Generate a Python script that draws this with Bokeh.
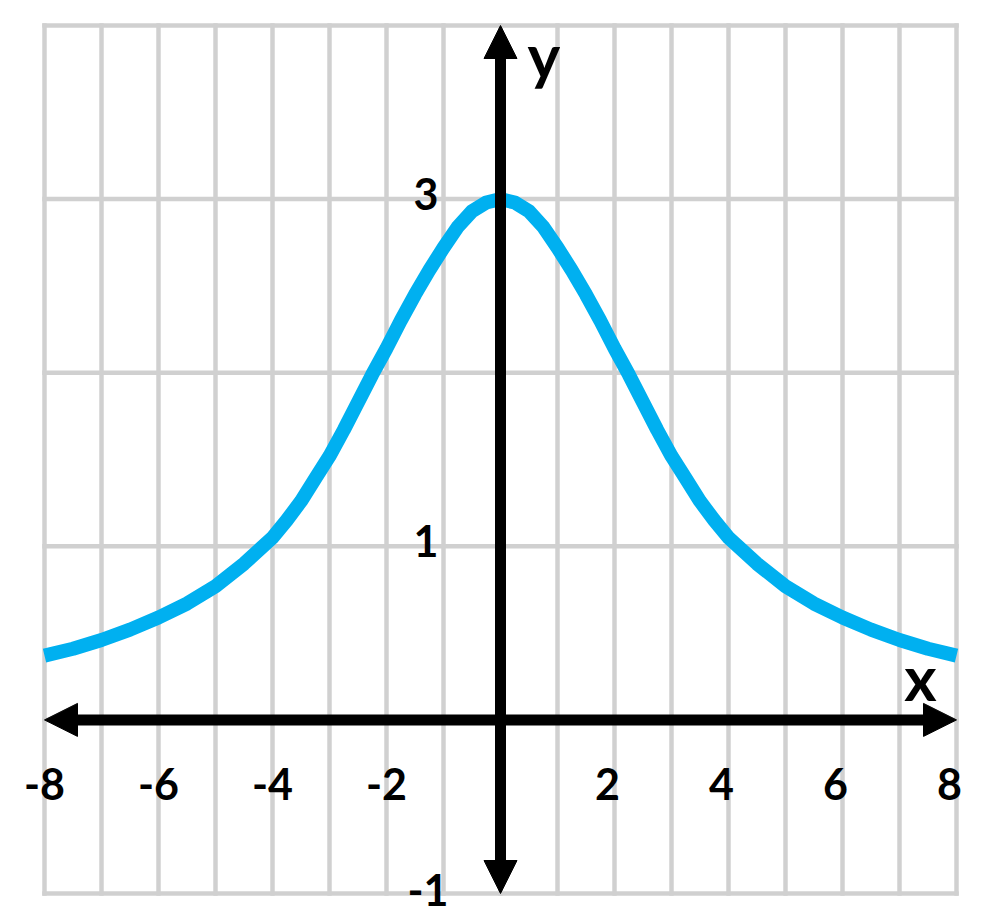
from bokeh.plotting import figure
from bokeh.models import Arrow, NormalHead
from bokeh.core.properties import value
from bokeh.embed import file_html
from bokeh.resources import INLINE

# ---- data ----
left_x = [-8, -7.5, -7, -6.5, -6, -5.5, -5, -4.5, -4, -3.75, -3.5, -3.25, -3, -2.75, -2.5, -2.25,
          -2, -1.75, -1.5, -1.25, -1, -0.75, -0.5, -0.25]
left_y = [0.37, 0.41, 0.46, 0.52, 0.59, 0.67, 0.77, 0.90, 1.05, 1.15, 1.26, 1.39, 1.52, 1.67, 1.83, 1.99,
          2.14, 2.30, 2.45, 2.59, 2.72, 2.84, 2.93, 2.98]
peak_x = [0]
peak_y = [3.0]
right_x = [0.25, 0.5, 0.75, 1, 1.25, 1.5, 1.75, 2, 2.25, 2.5, 2.75, 3, 3.25, 3.5, 3.75, 4,
           4.5, 5, 5.5, 6, 6.5, 7, 7.5, 8]
right_y = [2.98, 2.93, 2.84, 2.72, 2.59, 2.45, 2.30, 2.14, 1.99, 1.83, 1.67, 1.52, 1.39, 1.26, 1.15, 1.05,
           0.90, 0.77, 0.67, 0.59, 0.52, 0.46, 0.41, 0.37]

curve_x = left_x + peak_x + right_x
curve_y = left_y + peak_y + right_y

grid_x = list(range(-8, 9))
grid_y = list(range(-1, 5))

xtick_vals_neg = [-8, -6, -4, -2]
xtick_labels_neg = ["-8", "-6", "-4", "-2"]
xtick_vals_pos = [2, 4, 6, 8]
xtick_labels_pos = ["2", "4", "6", "8"]
ytick_vals = [3, 1]
ytick_labels = ["3", "1"]
ytick_neg_val = [-1]
ytick_neg_label = ["-1"]

# ---- figure ----
W, H = 984, 915
PX_X = 57.0
PX_Y = 173.6
p = figure(width=W, height=H, x_range=(-8 - 44 / PX_X, 8 + 28 / PX_X),
           y_range=(-1 - 22 / PX_Y, 4 + 25 / PX_Y),
           output_backend="svg", toolbar_location=None, min_border=0)
p.axis.visible = False
p.grid.visible = False
p.outline_line_color = None
p.background_fill_color = "white"
p.border_fill_color = "white"

GRID = "#d0d0d0"
p.segment(x0=grid_x, y0=[grid_y[0]] * len(grid_x), x1=grid_x, y1=[grid_y[-1]] * len(grid_x),
          line_color=GRID, line_width=4.5, line_cap="square")
p.segment(x0=[grid_x[0]] * len(grid_y), y0=grid_y, x1=[grid_x[-1]] * len(grid_y), y1=grid_y,
          line_color=GRID, line_width=4.5, line_cap="square")

p.line(curve_x, curve_y, line_color="#00B0F0", line_width=14, line_join="round", line_cap="butt")


def head():
    return NormalHead(size=33, fill_color="black", line_color="black", line_width=1)


p.add_layout(Arrow(start=head(), end=head(), x_start=grid_x[0], y_start=0, x_end=grid_x[-1], y_end=0,
                   line_color="black", line_width=11))
p.add_layout(Arrow(start=head(), end=head(), x_start=0, y_start=grid_y[0], x_end=0, y_end=grid_y[-1],
                   line_color="black", line_width=11))

FONT = value("Lato")
common = dict(text_font=FONT, text_font_style="bold", text_color="black")

p.text(x=xtick_vals_neg, y=[0] * 4, text=xtick_labels_neg, text_align="center",
       text_baseline="alphabetic", y_offset=64, text_font_size="43px", **common)
p.text(x=xtick_vals_pos, y=[0] * 4, text=xtick_labels_pos, text_align="center",
       text_baseline="alphabetic", x_offset=-7, y_offset=64, text_font_size="43px", **common)
p.text(x=[0] * 2, y=ytick_vals, text=ytick_labels, text_align="right",
       text_baseline="alphabetic", x_offset=-62, y_offset=-5, text_font_size="43px", **common)
p.text(x=[0], y=ytick_neg_val, text=ytick_neg_label, text_align="right",
       text_baseline="alphabetic", x_offset=-52, y_offset=-4, text_font_size="43px", **common)

p.text(x=[0], y=[grid_y[-1]], text=["y"], text_align="left", text_baseline="alphabetic",
       x_offset=27, y_offset=29, text_font_size="62px", **common)
p.text(x=[grid_x[-1]], y=[0], text=["x"], text_align="center", text_baseline="alphabetic",
       x_offset=-36, y_offset=-43, text_font_size="62px", **common)

open("out.html", "w").write(file_html(p, INLINE))
